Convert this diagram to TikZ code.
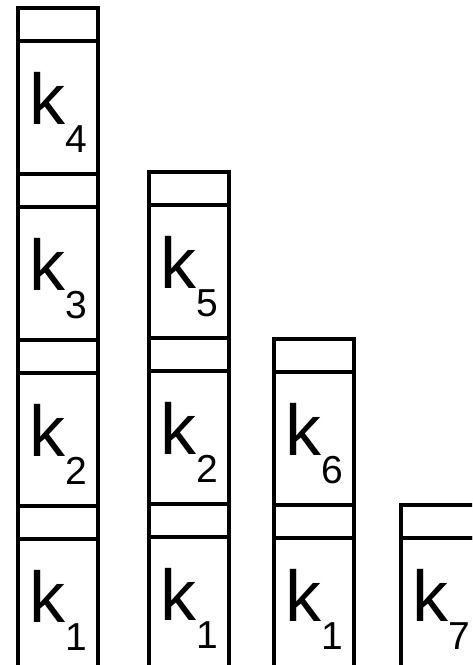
\documentclass[tikz,border=0pt]{standalone}
\usepackage{fontspec}
\setmainfont{Liberation Sans}
\newcommand{\kidx}[1]{k\raisebox{-28pt}{\fontsize{39pt}{39pt}\selectfont #1}}
\tikzset{
  slot/.style={draw=black, line width=4pt, inner sep=0pt, outer sep=0pt,
               minimum width=80pt, align=center},
  lid/.style={slot, minimum height=33pt},
  cell/.style={slot, minimum height=133pt, text height=52pt, text depth=18pt,
               font=\fontsize{72pt}{72pt}\selectfont}
}
\begin{document}
\begin{tikzpicture}[x=1pt,y=-1pt]
  \clip (0,0) rectangle (472,665);

  % first stack
  \node[lid]  (lidA4) at (58,24.5) {};
  \node[cell] (cellA4) at (58,107.5) {\kidx{4}};
  \node[lid]  (lidA3) at (58,190.5) {};
  \node[cell] (cellA3) at (58,273.5) {\kidx{3}};
  \node[lid]  (lidA2) at (58,356.5) {};
  \node[cell] (cellA2) at (58,439.5) {\kidx{2}};
  \node[lid]  (lidA1) at (58,522.5) {};
  \node[cell] (cellA1) at (58,605.5) {\kidx{1}};

  % second stack
  \node[lid]  (lidB5) at (189,188.5) {};
  \node[cell] (cellB5) at (189,271.5) {\kidx{5}};
  \node[lid]  (lidB2) at (189,354.5) {};
  \node[cell] (cellB2) at (189,437.5) {\kidx{2}};
  \node[lid]  (lidB1) at (189,520.5) {};
  \node[cell] (cellB1) at (189,603.5) {\kidx{1}};

  % third stack
  \node[lid]  (lidC6) at (314,355.5) {};
  \node[cell] (cellC6) at (314,438.5) {\kidx{6}};
  \node[lid]  (lidC1) at (314,521.5) {};
  \node[cell] (cellC1) at (314,604.5) {\kidx{1}};

  % fourth stack
  \node[lid]  (lidD7) at (441,521.5) {};
  \node[cell] (cellD7) at (441,604.5) {\kidx{7}};
\end{tikzpicture}
\end{document}
